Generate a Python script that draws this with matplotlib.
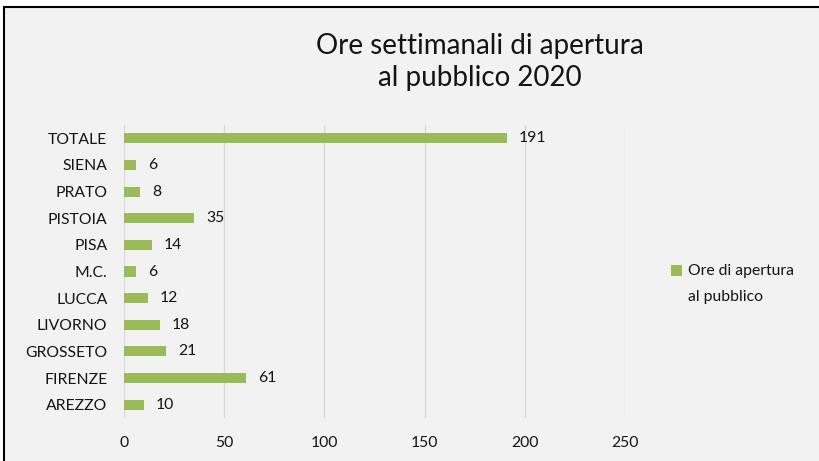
import matplotlib
matplotlib.use("Agg")
import matplotlib.pyplot as plt
from matplotlib.patches import Rectangle
from matplotlib.legend_handler import HandlerPatch

categories = ["AREZZO", "FIRENZE", "GROSSETO", "LIVORNO", "LUCCA", "M.C.",
              "PISA", "PISTOIA", "PRATO", "SIENA", "TOTALE"]
values = [10, 61, 21, 18, 12, 6, 14, 35, 8, 6, 191]
xticks = [0, 50, 100, 150, 200, 250]
series_name = "Ore di apertura\nal pubblico"
title = "Ore settimanali di apertura\nal pubblico 2020"

plt.rcParams['font.family'] = ['Lato', 'DejaVu Sans']
bg = "#f2f2f2"
green = "#9bbb59"
txt = "#141414"
fs = 11.3

fig = plt.figure(figsize=(8.19, 4.61), dpi=100)
fig.patch.set_facecolor("white")
frame = Rectangle((4/819, -0.05), 1.2, 1 - 7/461 + 0.05,
                  transform=fig.transFigure, facecolor=bg,
                  edgecolor="black", linewidth=1.5, zorder=-10)
fig.patches.append(frame)

ax = fig.add_axes([124/819, 1 - 418/461, (625 - 124)/819, (418 - 125)/461])
ax.patch.set_alpha(0)
y = list(range(len(categories)))
bars = ax.barh(y, values, height=0.38, color=green, zorder=3)
for yi, v in zip(y, values):
    ax.text(v + 6, yi, str(v), va="center", ha="left", fontsize=fs, color=txt)

ax.set_xlim(0, 250)
ax.set_ylim(-0.5, len(categories) - 0.5)
ax.set_xticks(xticks)
ax.set_xticklabels([str(t) for t in xticks], fontsize=fs, color=txt)
ax.set_yticks(y)
ax.set_yticklabels(categories, fontsize=fs, color=txt)
ax.tick_params(axis="both", length=0)
ax.tick_params(axis="x", pad=13)
ax.tick_params(axis="y", pad=12)
ax.grid(axis="x", color="#d9d9d9", linewidth=1, zorder=0)
for s in ax.spines.values():
    s.set_visible(False)

fig.text(480/819, 1 - 62/461, title, ha="center", va="center", fontsize=20,
         color=txt, linespacing=1.25)


def raised_square(legend, orig_handle, xdescent, ydescent, width, height, fontsize):
    return Rectangle((-xdescent, -ydescent + 10), width, height)


handle = bars.patches[0]
leg = fig.legend(handles=[handle], labels=[series_name], loc="upper left",
                 bbox_to_anchor=(657/819, 1 - 250/461), frameon=False,
                 fontsize=fs, handlelength=0.7, handleheight=0.7,
                 handletextpad=0.4, labelcolor=txt,
                 handler_map={handle: HandlerPatch(patch_func=raised_square)})
for t in leg.get_texts():
    t.set_linespacing(2.1)

fig.savefig("out.png", dpi=100, facecolor=fig.get_facecolor())
